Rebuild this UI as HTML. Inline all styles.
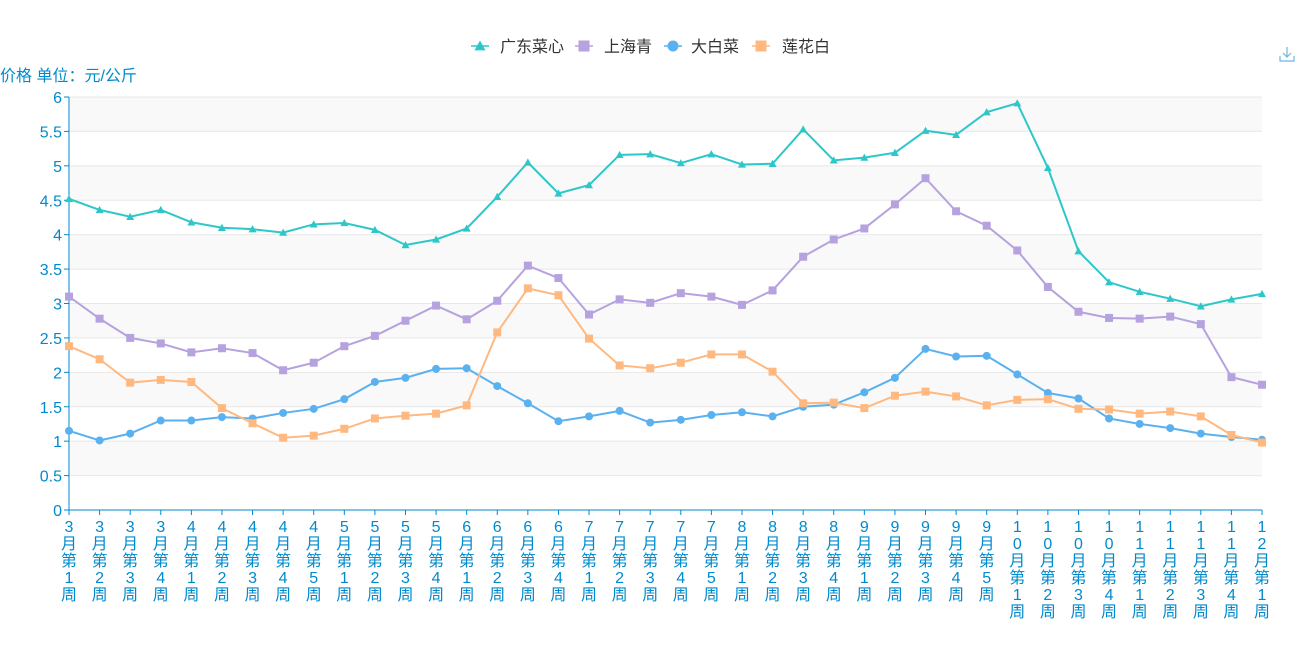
<!DOCTYPE html>
<html><head><meta charset="utf-8"><style>
html,body{margin:0;padding:0;background:#fff;width:1300px;height:650px;overflow:hidden}
svg{display:block;font-family:"Liberation Sans","Noto Sans CJK SC",sans-serif}
</style></head><body>
<svg id="s" width="1300" height="650" xmlns="http://www.w3.org/2000/svg"></svg>
<script>
const S=document.getElementById('s');
let h='';
const X0=69,X1=1262,Y0=510,Y6=97,N=40,st=(X1-X0)/(N-1);
const y=v=>Y0-(Y0-Y6)*v/6, x=i=>X0+i*st;
for(let k=0;k<12;k++){if(k%2==1)h+=`<rect x="${X0}" y="${y((k+1)/2)}" width="${X1-X0}" height="${y(k/2)-y((k+1)/2)}" fill="#f9f9f9"/>`;}
for(let k=1;k<=12;k++)h+=`<line x1="${X0}" x2="${X1}" y1="${y(k/2)}" y2="${y(k/2)}" stroke="#e8e8e8"/>`;
h+=`<line x1="${X0}" x2="${X0}" y1="${Y6}" y2="${Y0}" stroke="#008acd"/>`;
h+=`<line x1="${X0}" x2="${X1}" y1="${Y0}" y2="${Y0}" stroke="#008acd"/>`;
for(let k=0;k<=12;k++){const yy=y(k/2);h+=`<line x1="${X0-5}" x2="${X0}" y1="${yy}" y2="${yy}" stroke="#008acd"/><text x="${X0-7}" y="${yy+6}" text-anchor="end" font-size="16" fill="#008acd">${k/2}</text>`;}
h+=`<text x="0" y="81" font-size="16" fill="#008acd">价格 单位：元/公斤</text>`;
const labels=[];
[[3,4],[4,5],[5,4],[6,4],[7,5],[8,4],[9,5],[10,4],[11,4],[12,1]].forEach(([m,n])=>{for(let w=1;w<=n;w++)labels.push(m+'月第'+w+'周');});
labels.forEach((l,i)=>{const xx=x(i);h+=`<line x1="${xx}" x2="${xx}" y1="${Y0}" y2="${Y0+5}" stroke="#008acd"/>`;
 [...l].forEach((c,j)=>{h+=`<text x="${xx}" y="${532+j*17}" text-anchor="middle" font-size="16" fill="#008acd">${c}</text>`;});});
const D=[
["#2ec7c9","tri",[4.52,4.36,4.26,4.36,4.18,4.10,4.08,4.03,4.15,4.17,4.07,3.85,3.93,4.09,4.55,5.05,4.60,4.72,5.16,5.17,5.04,5.17,5.02,5.03,5.53,5.08,5.12,5.19,5.51,5.45,5.78,5.91,4.97,3.76,3.31,3.17,3.07,2.96,3.06,3.14]],
["#b6a2de","sq",[3.10,2.78,2.50,2.42,2.29,2.35,2.28,2.03,2.14,2.38,2.53,2.75,2.97,2.77,3.04,3.55,3.37,2.84,3.06,3.01,3.15,3.10,2.98,3.19,3.68,3.93,4.09,4.44,4.82,4.34,4.13,3.77,3.24,2.88,2.79,2.78,2.81,2.70,1.93,1.82]],
["#5ab1ef","ci",[1.15,1.01,1.11,1.30,1.30,1.35,1.33,1.41,1.47,1.61,1.86,1.92,2.05,2.06,1.80,1.55,1.29,1.36,1.44,1.27,1.31,1.38,1.42,1.36,1.50,1.53,1.71,1.92,2.34,2.23,2.24,1.97,1.70,1.62,1.33,1.25,1.19,1.11,1.06,1.02]],
["#ffb980","sq",[2.38,2.19,1.85,1.89,1.86,1.48,1.26,1.05,1.08,1.18,1.33,1.37,1.40,1.52,2.58,3.22,3.12,2.49,2.10,2.06,2.14,2.26,2.26,2.01,1.55,1.56,1.48,1.66,1.72,1.65,1.52,1.60,1.61,1.47,1.46,1.40,1.43,1.36,1.09,0.98]]];
function mk(t,c,cx,cy,r){if(t=="tri")return `<polygon points="${cx},${cy-r} ${cx-r},${cy+r*0.8} ${cx+r},${cy+r*0.8}" fill="${c}"/>`;
 if(t=="sq")return `<rect x="${cx-r}" y="${cy-r}" width="${2*r}" height="${2*r}" fill="${c}"/>`;
 return `<circle cx="${cx}" cy="${cy}" r="${r}" fill="${c}"/>`;}
D.forEach(([c,t,d])=>{h+=`<polyline fill="none" stroke="${c}" stroke-width="2" points="${d.map((v,i)=>x(i)+','+y(v)).join(' ')}"/>`;
 d.forEach((v,i)=>h+=mk(t,c,x(i),y(v),4));});
const L=[["广东菜心",471,500],["上海青",575,604],["大白菜",664,691],["莲花白",752,782]];
L.forEach(([n,a,b],k)=>{const [c,t]=D[k];h+=`<line x1="${a}" x2="${a+18}" y1="46" y2="46" stroke="${c}" stroke-width="1.5"/>`+mk(t,c,a+9,46,5.5)+`<text x="${b}" y="52" font-size="16" fill="#333">${n}</text>`;});
h+=`<g stroke="#6bb7dd" fill="none" stroke-width="1.2"><path d="M1287 47v10M1283 53l4 4 4-4M1280 56v5h14v-5"/></g>`;
S.innerHTML=h;
</script>
</body></html>
